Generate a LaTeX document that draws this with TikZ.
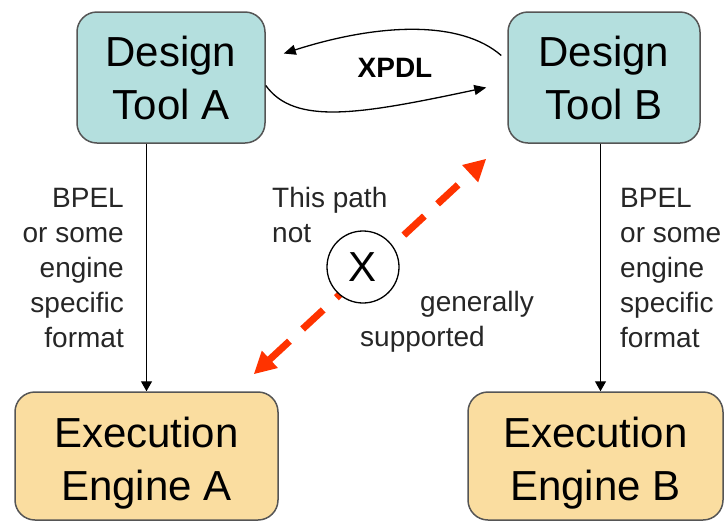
\documentclass[tikz,border=0pt]{standalone}
\usepackage{fontspec}
\setmainfont{Liberation Sans}
\usetikzlibrary{calc,arrows.meta,positioning}

\definecolor{toolfill}{RGB}{180,223,222}
\definecolor{enginefill}{RGB}{250,221,160}
\definecolor{pathred}{RGB}{255,51,0}
\definecolor{boxline}{RGB}{85,85,85}

\tikzset{
  tool/.style={draw=boxline, line width=1.5pt, rounded corners=20pt, fill=toolfill,
    minimum height=131pt, inner sep=4pt, align=center,
    font=\fontsize{42}{53}\selectfont},
  engine/.style={tool, fill=enginefill, minimum height=128pt},
  fmt/.style={inner sep=0pt, text=black!85, font=\fontsize{28}{35}\selectfont},
  flow/.style={line width=1.3pt, -{Triangle[length=10pt,width=11pt]}},
  xpdl/.style={line width=1.3pt, -{Triangle[length=12pt,width=10pt]}},
}

\begin{document}
\begin{tikzpicture}[x=1pt,y=-1pt]
        \useasboundingbox (0,0) rectangle (726,520);

        % the four boxes (the rule pushes the engine text a little down)
        \node[tool, minimum width=188pt] (toolA) at (171,77.5) {Design\\Tool A};
        \node[tool, minimum width=192pt] (toolB) at (604,77.5) {Design\\Tool B};
        \node[engine, minimum width=263pt] (engA) at (146.5,456) {\rule{0pt}{45pt}Execution\\Engine A};
        \node[engine, minimum width=255pt] (engB) at (595.5,456) {\rule{0pt}{45pt}Execution\\Engine B};

        % XPDL exchange between the design tools
        \draw[xpdl] ([xshift=-6pt,yshift=22pt]toolB.west)
            .. controls +(-40,-35) and +(97,-31) .. ([xshift=18pt,yshift=24pt]toolA.east);
        \draw[xpdl] ([yshift=-8pt]toolA.east)
            .. controls +(29,40) and +(-127,27) .. ([xshift=-21pt,yshift=-10pt]toolB.west);
        \node[font=\bfseries\fontsize{28}{28}\selectfont] (xpdllbl) at (395,68) {XPDL};

        % export to the engines
        \coordinate (dropB) at ([xshift=5pt]engB.north);
        \draw[flow] (engA.north |- toolA.south) -- (engA.north);
        \draw[flow] (dropB |- toolB.south) -- (dropB);
        \node[fmt, anchor=north east, align=right] (fmtA) at (124,188)
            {BPEL\\or some\\engine\\specific\\format};
        \node[fmt, anchor=north west, align=left] (fmtB) at (620,188)
            {BPEL\\or some\\engine\\specific\\format};

        % cross path, not supported
        \draw[pathred, line width=7pt, dash pattern=on 28pt off 18pt,
              {Triangle[length=22pt,width=22pt]}-{Triangle[length=22pt,width=22pt]}]
            ($(engA.north east)+(-25,-17)$) -- ($(toolB.south west)+(-21,15)$);
        \node[draw, circle, fill=white, line width=1.3pt, minimum size=72pt, inner sep=0pt,
              font=\fontsize{42}{42}\selectfont] (nox) at (363,267) {X};
        \node[fmt, anchor=north west, align=left] (pathtxt) at (272,187) {This path\\not};
        \node[fmt, anchor=base west] (gentxt) at (420,311) {generally};
        \node[fmt, anchor=base west] (suptxt) at (360,346) {supported};
\end{tikzpicture}
\end{document}
